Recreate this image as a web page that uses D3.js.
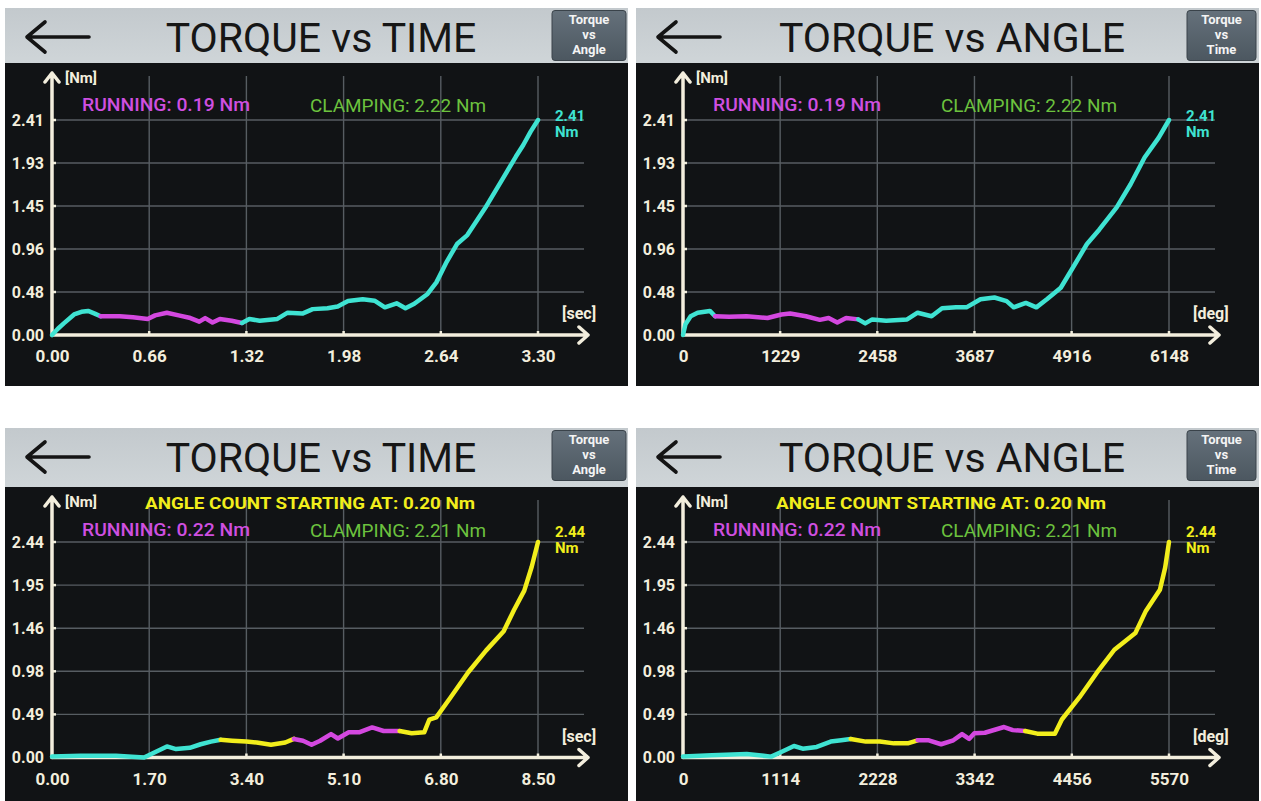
<!DOCTYPE html>
<html><head><meta charset="utf-8">
<script src="https://cdn.jsdelivr.net/npm/d3@7"></script>
<style>
body{margin:0;background:#ffffff;}
svg{display:block;font-family:Roboto,'Noto Sans',sans-serif;}
</style>
</head><body>
<svg id="chart" width="1261" height="801"></svg>
<script>
// ---------- Panel 1: Torque vs Time (run A) ----------
const p1Time = [0, 0.04, 0.08, 0.15, 0.20, 0.245, 0.29, 0.33, 0.40, 0.46, 0.55, 0.65, 0.70, 0.78, 0.86, 0.94, 1.00, 1.04, 1.09, 1.14, 1.22, 1.29, 1.34, 1.41, 1.53, 1.60, 1.70, 1.77, 1.87, 1.94, 2.01, 2.11, 2.19, 2.26, 2.34, 2.40, 2.46, 2.55, 2.61, 2.68, 2.75, 2.82, 2.94, 3.06, 3.15, 3.20, 3.25, 3.30];
const p1Torque = [0, 0.07, 0.13, 0.23, 0.26, 0.27, 0.24, 0.21, 0.21, 0.21, 0.20, 0.18, 0.22, 0.25, 0.22, 0.19, 0.15, 0.19, 0.14, 0.18, 0.16, 0.135, 0.18, 0.16, 0.18, 0.25, 0.24, 0.29, 0.30, 0.32, 0.38, 0.40, 0.385, 0.31, 0.355, 0.30, 0.35, 0.46, 0.59, 0.82, 1.02, 1.12, 1.42, 1.75, 2.00, 2.13, 2.28, 2.41];
const p1Breaks = [0.33, 1.29];
const p1Phases = ['start', 'running', 'clamp'];
const p1XTicks = [0, 0.66, 1.32, 1.98, 2.64, 3.30];
const p1XLabels = ['0.00', '0.66', '1.32', '1.98', '2.64', '3.30'];
const p1YTicks = [0, 0.482, 0.964, 1.446, 1.928, 2.41];
const p1YLabels = ['0.00', '0.48', '0.96', '1.45', '1.93', '2.41'];

// ---------- Panel 2: Torque vs Angle (run A) ----------
const p2Angle = [0, 31, 97, 185, 340, 406, 583, 804, 1069, 1245, 1356, 1555, 1731, 1842, 1952, 2063, 2217, 2305, 2394, 2570, 2835, 2968, 3145, 3277, 3454, 3586, 3763, 3940, 4094, 4183, 4337, 4470, 4603, 4779, 4956, 5110, 5265, 5486, 5662, 5839, 6016, 6148];
const p2Torque = [0, 0.12, 0.21, 0.25, 0.27, 0.21, 0.205, 0.21, 0.19, 0.23, 0.24, 0.21, 0.17, 0.19, 0.14, 0.19, 0.175, 0.13, 0.175, 0.16, 0.175, 0.25, 0.21, 0.30, 0.31, 0.31, 0.40, 0.42, 0.38, 0.31, 0.36, 0.31, 0.40, 0.53, 0.79, 1.02, 1.18, 1.43, 1.69, 1.99, 2.21, 2.41];
const p2Breaks = [406, 2217];
const p2Phases = ['start', 'running', 'clamp'];
const p2XTicks = [0, 1229, 2458, 3687, 4916, 6148];
const p2XLabels = ['0', '1229', '2458', '3687', '4916', '6148'];
const p2YTicks = [0, 0.482, 0.964, 1.446, 1.928, 2.41];
const p2YLabels = ['0.00', '0.48', '0.96', '1.45', '1.93', '2.41'];

// ---------- Panel 3: Torque vs Time (run B) ----------
const p3Time = [0, 0.50, 1.12, 1.61, 1.80, 2.01, 2.17, 2.41, 2.60, 2.78, 2.95, 3.15, 3.40, 3.58, 3.83, 4.08, 4.23, 4.39, 4.54, 4.69, 4.88, 5.00, 5.19, 5.37, 5.60, 5.80, 6.08, 6.29, 6.51, 6.60, 6.72, 6.97, 7.28, 7.59, 7.90, 8.08, 8.26, 8.39, 8.50];
const p3Torque = [0.01, 0.02, 0.02, 0.0, 0.06, 0.125, 0.095, 0.11, 0.15, 0.18, 0.20, 0.19, 0.18, 0.17, 0.145, 0.17, 0.21, 0.19, 0.145, 0.19, 0.265, 0.215, 0.285, 0.285, 0.34, 0.30, 0.30, 0.275, 0.285, 0.43, 0.455, 0.68, 0.965, 1.21, 1.43, 1.67, 1.89, 2.16, 2.44];
const p3Breaks = [2.95, 4.23, 6.08];
const p3Phases = ['pre', 'angle', 'running', 'angle'];
const p3XTicks = [0, 1.70, 3.40, 5.10, 6.80, 8.50];
const p3XLabels = ['0.00', '1.70', '3.40', '5.10', '6.80', '8.50'];
const p3YTicks = [0, 0.488, 0.976, 1.464, 1.952, 2.44];
const p3YLabels = ['0.00', '0.49', '0.98', '1.46', '1.95', '2.44'];

// ---------- Panel 4: Torque vs Angle (run B) ----------
const p4Angle = [0, 329, 730, 1011, 1132, 1272, 1372, 1533, 1693, 1814, 1922, 2095, 2255, 2416, 2576, 2689, 2817, 2958, 3098, 3198, 3279, 3339, 3459, 3680, 3780, 3921, 4061, 4262, 4342, 4543, 4743, 4944, 5185, 5305, 5466, 5526, 5570];
const p4Torque = [0.01, 0.025, 0.04, 0.01, 0.065, 0.13, 0.10, 0.12, 0.18, 0.195, 0.21, 0.18, 0.18, 0.16, 0.16, 0.195, 0.195, 0.15, 0.195, 0.265, 0.21, 0.275, 0.28, 0.345, 0.31, 0.30, 0.27, 0.27, 0.43, 0.68, 0.96, 1.22, 1.41, 1.66, 1.90, 2.15, 2.44];
const p4Breaks = [1922, 2689, 3921];
const p4Phases = ['pre', 'angle', 'running', 'angle'];
const p4XTicks = [0, 1114, 2228, 3342, 4456, 5570];
const p4XLabels = ['0', '1114', '2228', '3342', '4456', '5570'];
const p4YTicks = [0, 0.488, 0.976, 1.464, 1.952, 2.44];
const p4YLabels = ['0.00', '0.49', '0.98', '1.46', '1.95', '2.44'];

// ---------- Texts ----------
const titles = ['TORQUE vs TIME', 'TORQUE vs ANGLE', 'TORQUE vs TIME', 'TORQUE vs ANGLE'];
const buttons = [['Torque', 'vs', 'Angle'], ['Torque', 'vs', 'Time'], ['Torque', 'vs', 'Angle'], ['Torque', 'vs', 'Time']];
const xUnits = ['[sec]', '[deg]', '[sec]', '[deg]'];
const runningTexts = ['RUNNING: 0.19 Nm', 'RUNNING: 0.19 Nm', 'RUNNING: 0.22 Nm', 'RUNNING: 0.22 Nm'];
const clampingTexts = ['CLAMPING: 2.22 Nm', 'CLAMPING: 2.22 Nm', 'CLAMPING: 2.21 Nm', 'CLAMPING: 2.21 Nm'];
const angleStartTexts = [null, null, 'ANGLE COUNT STARTING AT: 0.20 Nm', 'ANGLE COUNT STARTING AT: 0.20 Nm'];
const peakTexts = ['2.41', '2.41', '2.44', '2.44'];

// ---------- Styles / layout ----------
const phaseColor = {start: '#3fe3d2', clamp: '#3fe3d2', pre: '#3fe3d2', running: '#d448e0', angle: '#f2ee1c'};
const rows = [
  {y: 8, h: 378, headerH: 55, yZero: 327, yTop: 112, runBase: 103, peakBase: 113},
  {y: 428, h: 373, headerH: 59, yZero: 329.5, yTop: 114, runBase: 108, peakBase: 109}
];
const cols = [{x: 5, w: 623}, {x: 636, w: 623}];

const panels = [
  {col: 0, row: 0, xs: p1Time, ys: p1Torque, breaks: p1Breaks, phases: p1Phases, xTicks: p1XTicks, xLabels: p1XLabels, yTicks: p1YTicks, yLabels: p1YLabels},
  {col: 1, row: 0, xs: p2Angle, ys: p2Torque, breaks: p2Breaks, phases: p2Phases, xTicks: p2XTicks, xLabels: p2XLabels, yTicks: p2YTicks, yLabels: p2YLabels},
  {col: 0, row: 1, xs: p3Time, ys: p3Torque, breaks: p3Breaks, phases: p3Phases, xTicks: p3XTicks, xLabels: p3XLabels, yTicks: p3YTicks, yLabels: p3YLabels},
  {col: 1, row: 1, xs: p4Angle, ys: p4Torque, breaks: p4Breaks, phases: p4Phases, xTicks: p4XTicks, xLabels: p4XLabels, yTicks: p4YTicks, yLabels: p4YLabels}
];

const svg = d3.select('#chart');
const defs = svg.append('defs');
const hg = defs.append('linearGradient').attr('id', 'hdr').attr('x1', 0).attr('y1', 0).attr('x2', 0).attr('y2', 1);
hg.append('stop').attr('offset', '0%').attr('stop-color', '#c3c9cd');
hg.append('stop').attr('offset', '100%').attr('stop-color', '#cfd5d8');
const bg = defs.append('linearGradient').attr('id', 'btn').attr('x1', 0).attr('y1', 0).attr('x2', 0).attr('y2', 1);
bg.append('stop').attr('offset', '0%').attr('stop-color', '#65717b');
bg.append('stop').attr('offset', '100%').attr('stop-color', '#4c5760');

const AXIS = '#f3eedd', GRID = '#575d62';
const xLeft = 47, xRight = 533;

panels.forEach((p, i) => {
  const r = rows[p.row], c = cols[p.col];
  const g = svg.append('g').attr('transform', `translate(${c.x},${r.y})`);

  // background
  g.append('rect').attr('x', 0).attr('y', 0).attr('width', c.w).attr('height', r.h).attr('fill', '#111315');
  g.append('rect').attr('x', 0).attr('y', 0).attr('width', c.w).attr('height', r.headerH).attr('fill', 'url(#hdr)');

  // back arrow
  const ay = 29;
  g.append('path').attr('d', `M22,${ay} L84,${ay} M40,${ay - 15} L22,${ay} L40,${ay + 15}`)
    .attr('fill', 'none').attr('stroke', '#141414').attr('stroke-width', 3.6).attr('stroke-linecap', 'round').attr('stroke-linejoin', 'round');

  // title
  g.append('text').attr('x', 316).attr('y', 44).attr('text-anchor', 'middle')
    .attr('font-size', 41).attr('fill', '#161616').attr('font-weight', 400).text(titles[i]);

  // button
  const bx = p.col === 0 ? 547 : 551, bw = p.col === 0 ? 74 : 69;
  g.append('rect').attr('x', bx).attr('y', 2.5).attr('width', bw).attr('height', 50).attr('rx', 3)
    .attr('fill', 'url(#btn)').attr('stroke', '#3a434a').attr('stroke-width', 1);
  buttons[i].forEach((t, k) => {
    g.append('text').attr('x', bx + bw / 2).attr('y', 16 + k * 15).attr('text-anchor', 'middle')
      .attr('font-size', 13).attr('font-weight', 700).attr('fill', '#f4f4f4').text(t);
  });

  // scales
  const x = d3.scaleLinear().domain([0, p.xTicks[p.xTicks.length - 1]]).range([xLeft, xRight]);
  const y = d3.scaleLinear().domain([0, p.yTicks[p.yTicks.length - 1]]).range([r.yZero, r.yTop]);
  const gridTop = r.headerH + 13;

  // grid
  g.append('g').selectAll('line.h').data(p.yTicks.slice(1)).join('line')
    .attr('x1', xLeft).attr('x2', 579).attr('y1', d => y(d)).attr('y2', d => y(d))
    .attr('stroke', GRID).attr('stroke-width', 1.4);
  g.append('g').selectAll('line.v').data(p.xTicks.slice(1)).join('line')
    .attr('x1', d => x(d)).attr('x2', d => x(d)).attr('y1', gridTop).attr('y2', r.yZero)
    .attr('stroke', GRID).attr('stroke-width', 1.4);

  // axes labels via d3 axes
  const ya = g.append('g').attr('transform', `translate(${xLeft},0)`)
    .call(d3.axisLeft(y).tickValues(p.yTicks).tickFormat((d, k) => p.yLabels[k]).tickSize(0).tickPadding(8));
  ya.select('.domain').remove();
  ya.selectAll('text').attr('font-size', 16).attr('font-weight', 700).attr('fill', AXIS).attr('font-family', 'Roboto,sans-serif');

  const xa = g.append('g').attr('transform', `translate(0,${r.yZero})`)
    .call(d3.axisBottom(x).tickValues(p.xTicks).tickFormat((d, k) => p.xLabels[k]).tickSize(0).tickPadding(15));
  xa.select('.domain').remove();
  xa.selectAll('text').attr('font-size', 17).attr('font-weight', 700).attr('fill', AXIS).attr('font-family', 'Roboto,sans-serif');

  // small tick marks
  g.append('g').selectAll('line').data(p.xTicks.slice(1)).join('line')
    .attr('x1', d => x(d)).attr('x2', d => x(d)).attr('y1', r.yZero - 4).attr('y2', r.yZero)
    .attr('stroke', AXIS).attr('stroke-width', 2.5);
  g.append('g').selectAll('line').data(p.yTicks.slice(1)).join('line')
    .attr('x1', xLeft).attr('x2', xLeft + 4).attr('y1', d => y(d)).attr('y2', d => y(d))
    .attr('stroke', AXIS).attr('stroke-width', 2.5);

  // axis lines with arrows
  const tipY = r.headerH + 10, tipX = 583;
  g.append('path').attr('d', `M${xLeft},${r.yZero} L${xLeft},${tipY} M${xLeft - 7},${tipY + 9} L${xLeft},${tipY} L${xLeft + 7},${tipY + 9}`)
    .attr('fill', 'none').attr('stroke', AXIS).attr('stroke-width', 3.5).attr('stroke-linecap', 'round').attr('stroke-linejoin', 'round');
  g.append('path').attr('d', `M${xLeft},${r.yZero} L${tipX},${r.yZero} M${tipX - 9},${r.yZero - 8} L${tipX},${r.yZero} L${tipX - 9},${r.yZero + 8}`)
    .attr('fill', 'none').attr('stroke', AXIS).attr('stroke-width', 3.5).attr('stroke-linecap', 'round').attr('stroke-linejoin', 'round');

  // unit labels
  g.append('text').attr('x', 60).attr('y', r.headerH + 20).attr('font-size', 15).attr('font-weight', 700).attr('fill', AXIS).text('[Nm]');
  g.append('text').attr('x', 557).attr('y', r.yZero - 16).attr('font-size', 16).attr('font-weight', 700).attr('fill', AXIS).text(xUnits[i]);

  // info texts
  if (angleStartTexts[i]) {
    g.append('text').attr('x', 305).attr('y', 81).attr('text-anchor', 'middle').attr('font-size', 17)
      .attr('font-weight', 700).attr('fill', '#f2ee1c').attr('textLength', 330).attr('lengthAdjust', 'spacingAndGlyphs').text(angleStartTexts[i]);
  }
  g.append('text').attr('x', 77).attr('y', r.runBase).attr('font-size', 18).attr('font-weight', 500)
    .attr('fill', '#cf4fe0').attr('textLength', 168).attr('lengthAdjust', 'spacingAndGlyphs').text(runningTexts[i]);
  g.append('text').attr('x', 305).attr('y', r.runBase + 1).attr('font-size', 18).attr('font-weight', 400)
    .attr('fill', '#6cc23e').attr('textLength', 176).attr('lengthAdjust', 'spacingAndGlyphs').text(clampingTexts[i]);

  // curve segments
  const pts = p.xs.map((v, k) => [v, p.ys[k]]);
  const line = d3.line().x(d => x(d[0])).y(d => y(d[1]));
  p.phases.forEach((ph, k) => {
    const lo = k === 0 ? -Infinity : p.breaks[k - 1];
    const hi = k === p.phases.length - 1 ? Infinity : p.breaks[k];
    const seg = pts.filter(d => d[0] >= lo && d[0] <= hi);
    g.append('path').attr('d', line(seg)).attr('fill', 'none').attr('stroke', phaseColor[ph])
      .attr('stroke-width', 4.5).attr('stroke-linejoin', 'round').attr('stroke-linecap', 'round');
  });

  // peak label
  const lastColor = phaseColor[p.phases[p.phases.length - 1]];
  g.append('text').attr('x', 550).attr('y', r.peakBase).attr('font-size', 15).attr('font-weight', 700).attr('fill', lastColor).text(peakTexts[i]);
  g.append('text').attr('x', 550).attr('y', r.peakBase + 16).attr('font-size', 15).attr('font-weight', 700).attr('fill', lastColor).text('Nm');
});
</script>
</body></html>
